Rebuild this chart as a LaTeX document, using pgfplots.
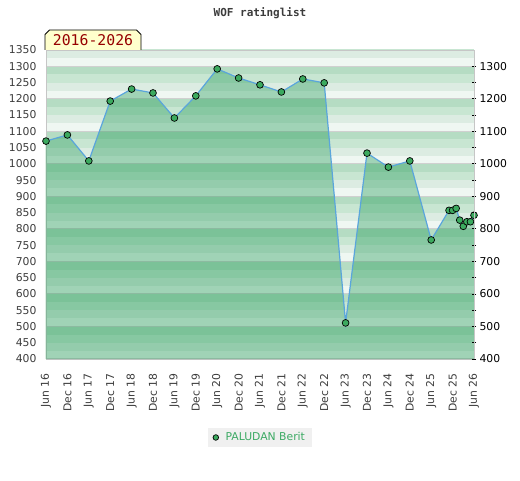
\documentclass[border=0pt]{standalone}
\usepackage{pgfplots}
\pgfplotsset{compat=1.18}
\usepackage{fontspec}
\setmainfont{DejaVu Sans}
\setmonofont{DejaVu Sans Mono}
\definecolor{bgA}{RGB}{181,220,195}
\definecolor{bgB}{RGB}{200,230,210}
\definecolor{bgC}{RGB}{220,236,226}
\definecolor{bgD}{RGB}{239,247,242}
\definecolor{gridc}{RGB}{208,208,208}
\definecolor{fillc}{RGB}{25,150,80}
\definecolor{linec}{RGB}{90,165,220}
\definecolor{markc}{RGB}{60,170,95}
\definecolor{edgec}{RGB}{60,160,90}
\definecolor{labc}{RGB}{60,60,60}
\definecolor{boxfill}{RGB}{255,255,204}
\definecolor{boxtext}{RGB}{150,0,0}
\definecolor{legbg}{RGB}{240,240,240}
\definecolor{legtext}{RGB}{60,170,100}
\begin{document}
\begin{tikzpicture}[x=1pt,y=1pt]
\useasboundingbox (0,0) rectangle (520,480);
% background stripes
\begin{scope}
\clip (46,121) rectangle (474,430);
\foreach \b in {400,500,...,1300}{
  \pgfmathsetmacro\ya{121+(\b-400)/950*309}
  \pgfmathsetmacro\yb{121+(\b-375)/950*309}
  \pgfmathsetmacro\yc{121+(\b-350)/950*309}
  \pgfmathsetmacro\yd{121+(\b-325)/950*309}
  \pgfmathsetmacro\ye{121+(\b-300)/950*309}
  \fill[bgD] (46,\ya) rectangle (474,\yb);
  \fill[bgC] (46,\yb) rectangle (474,\yc);
  \fill[bgB] (46,\yc) rectangle (474,\yd);
  \fill[bgA] (46,\yd) rectangle (474,\ye);
  \draw[gridc, line width=1pt] (46,\ya) -- (474,\ya);
}
\end{scope}
\begin{axis}[
  at={(46pt,121pt)}, anchor=south west,
  scale only axis, width=428pt, height=309pt,
  xmin=0, xmax=120, ymin=400, ymax=1350,
  clip mode=individual,
  axis line style={draw=gray!45},
  major tick length=0pt,
  xtick={0,6,...,120},
  xticklabels={Jun 16,Dec 16,Jun 17,Dec 17,Jun 18,Dec 18,Jun 19,Dec 19,Jun 20,Dec 20,Jun 21,Dec 21,Jun 22,Dec 22,Jun 23,Dec 23,Jun 24,Dec 24,Jun 25,Dec 25,Jun 26},
  xticklabel style={rotate=90, anchor=east, font=\fontsize{10.8}{12}\selectfont, text=labc},
  xticklabel shift=11pt,
  ytick={400,450,...,1350},
  yticklabel style={font=\fontsize{10.8}{12}\selectfont, text=labc, xshift=-6pt},
  /pgf/number format/assume math mode=true,
  /pgf/number format/1000 sep={},
  legend style={at={(0.5,-0.254)}, anchor=center, fill=legbg, draw=none,
    font=\fontsize{10.8}{12}\selectfont, text=legtext, inner xsep=5pt, inner ysep=3pt,
    /tikz/every odd column/.append style={column sep=5pt}},
]
\addplot[fill=fillc, fill opacity=0.37, draw=none, forget plot] coordinates {
(0,400) (0,1070) (6,1089) (12,1009) (18,1193) (24,1230) (30,1218) (36,1141) (42,1209)
(48,1292) (54,1264) (60,1243) (66,1221) (72,1261) (78,1249) (84,511) (90,1033)
(96,990) (102,1009) (108,766) (113,857) (114,857) (115,863) (116,827) (117,808)
(118,822) (119,822) (120,842) (120,400)} -- cycle;
\addplot[draw=edgec, line width=1pt, forget plot] coordinates {(0,400) (0,1070)};
\addplot[draw=edgec, line width=1pt, forget plot] coordinates {(120,400) (120,842)};
\addplot[color=linec, line width=1.2pt, mark=*, mark size=3.4pt,
  mark options={fill=markc, draw=black, line width=0.7pt}, forget plot] coordinates {
(0,1070) (6,1089) (12,1009) (18,1193) (24,1230) (30,1218) (36,1141) (42,1209)
(48,1292) (54,1264) (60,1243) (66,1221) (72,1261) (78,1249) (84,511) (90,1033)
(96,990) (102,1009) (108,766) (113,857) (114,857) (115,863) (116,827) (117,808)
(118,822) (119,822) (120,842)};
\addlegendimage{only marks, mark=*, mark size=2.8pt, mark options={fill=markc, draw=black, line width=0.7pt}}
\addlegendentry{PALUDAN Berit}
\end{axis}
\begin{axis}[
  at={(46pt,121pt)}, anchor=south west,
  scale only axis, width=428pt, height=309pt,
  xmin=0, xmax=120, ymin=400, ymax=1350,
  axis x line=none,
  axis y line*=right,
  axis line style={draw=gray!45},
  ytick={400,500,...,1300},
  minor ytick={450,550,...,1250},
  tick align=center,
  major tick length=4pt, minor tick length=4pt,
  tick style={black, line width=0.8pt},
  yticklabel style={font=\fontsize{10.8}{12}\selectfont, text=black, xshift=0pt},
  /pgf/number format/assume math mode=true,
  /pgf/number format/1000 sep={},
]
\addplot[draw=none] coordinates {(0,400)};
\end{axis}
% title
\node[anchor=base, font=\ttfamily\bfseries\fontsize{11}{12}\selectfont, text=labc] at (260,463) {WOF ratinglist};
% period box
\draw[fill=boxfill, draw=black, line width=0.8pt] (45,430) -- (45,445.5) -- (49.5,450) -- (136.5,450) -- (141,445.5) -- (141,430);
\node[anchor=base, font=\ttfamily\fontsize{14.8}{16}\selectfont, text=boxtext, inner sep=0pt] at (93,434.3) {2016-2026};
\end{tikzpicture}
\end{document}
